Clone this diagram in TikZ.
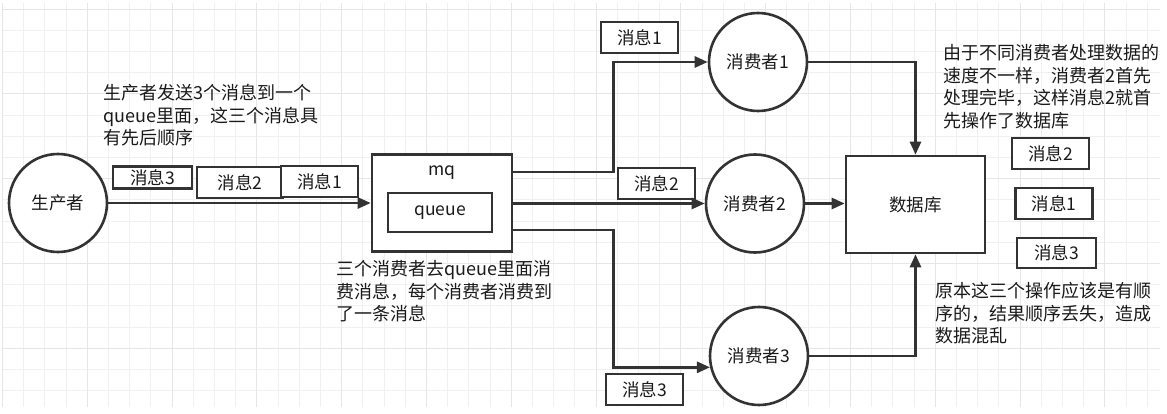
\documentclass[tikz,border=0pt]{standalone}
\usepackage{fontspec}
\setmainfont{Noto Sans CJK SC}
\usetikzlibrary{arrows.meta,positioning}

\definecolor{linegray}{HTML}{333333}
\definecolor{textgray}{HTML}{1A1A1A}
\definecolor{gridminor}{HTML}{F0F0F0}
\definecolor{gridmajor}{HTML}{E6E6E6}

\tikzset{every picture/.style={line width=0.75pt}}
\tikzset{
  every node/.style={font=\fontsize{17.5}{22.5}\selectfont,text=textgray},
  box/.style={draw=linegray,line width=2.6pt,fill=white,inner sep=0pt},
  msgbox/.style={box,minimum width=77pt,minimum height=31pt},
  roundbox/.style={box,circle,minimum size=98pt},
  flow/.style={draw=linegray,line width=2.6pt,-{Triangle[length=13pt,width=11pt]}},
  note/.style={align=left,anchor=north west,inner sep=0pt,font=\fontsize{18}{22.5}\selectfont},
}

\begin{document}
\begin{tikzpicture}[x=1pt,y=-1pt]
\useasboundingbox (0,0) rectangle (1167,414);
% 背景网格
\foreach \k in {0,...,54} \draw[gridminor] ({2.3+21.2*\k},3) -- ({2.3+21.2*\k},407);
\foreach \k in {0,...,18} \draw[gridminor] (2.3,{9+21.2*\k}) -- (1160,{9+21.2*\k});
\foreach \k in {0,4,...,52} \draw[gridmajor] ({2.3+21.2*\k},3) -- ({2.3+21.2*\k},407);
\foreach \k in {0,4,...,16} \draw[gridmajor] (2.3,{9+21.2*\k}) -- (1160,{9+21.2*\k});

% 生产者和mq
\node[roundbox] (prod) at (58,203) {生产者};
\node[msgbox,minimum width=79pt,minimum height=22pt] (msgA3) at (152.5,177.5) {消息3};
\node[msgbox,minimum width=86pt] (msgA2) at (240,182.5) {消息2};
\node[msgbox] (msgA1) at (319.5,181.5) {消息1};
\node[box,minimum width=140pt,minimum height=97pt] (mq) at (442,203) {};
\node (mqname) at ([yshift=-19pt]mq.north) {mq};
\node[box,minimum width=104pt,minimum height=39pt] (queue) at ([xshift=-2pt,yshift=-9.5pt]mq.center) {queue};

% 消费者
\node[roundbox] (con1) at (758,62) {消费者1};
\node[roundbox] (con2) at (755,203.5) {消费者2};
\node[roundbox] (con3) at (759,356) {消费者3};
\node[msgbox] (msgB1) at (639.5,37.5) {消息1};
\node[msgbox] (msgB2) at (656.5,183.5) {消息2};
\node[msgbox] (msgB3) at (644.5,389.5) {消息3};

% 数据库
\node[box,minimum width=139pt,minimum height=97pt] (db) at (915.5,204.5) {数据库};
\node[msgbox] (msgC2) at (1050.5,153.5) {消息2};
\node[msgbox] (msgC1) at (1054,203.5) {消息1};
\node[msgbox,minimum width=79pt,minimum height=30pt] (msgC3) at (1056.5,253) {消息3};

% 连线
\draw[flow] (prod.east) -- (prod.east -| mq.west);
\draw[flow] ([yshift=31pt]mq.east) -- ++(100,0) |- (con1);
\draw[flow] (mq.east |- con2) -- (con2);
\draw[flow] ([yshift=-27pt]mq.east) -- ++(100,0) |- (con3.193);
\draw[flow] (con1) -| (db);
\draw[flow] (con2) -- (con2 -| db.west);
\draw[flow] (con3) -| (db);

% 说明文字
\node[note] (noteProd) at (103,84) {生产者发送3个消息到一个\\queue里面，这三个消息具\\有先后顺序};
\node[note] (noteMq) at (336,260) {三个消费者去queue里面消\\费消息，每个消费者消费到\\了一条消息};
\node[note] (noteSpeed) at (943,44) {由于不同消费者处理数据的\\速度不一样，消费者2首先\\处理完毕，这样消息2就首\\先操作了数据库};
\node[note] (noteOrder) at (935,282) {原本这三个操作应该是有顺\\序的，结果顺序丢失，造成\\数据混乱};
\end{tikzpicture}
\end{document}
